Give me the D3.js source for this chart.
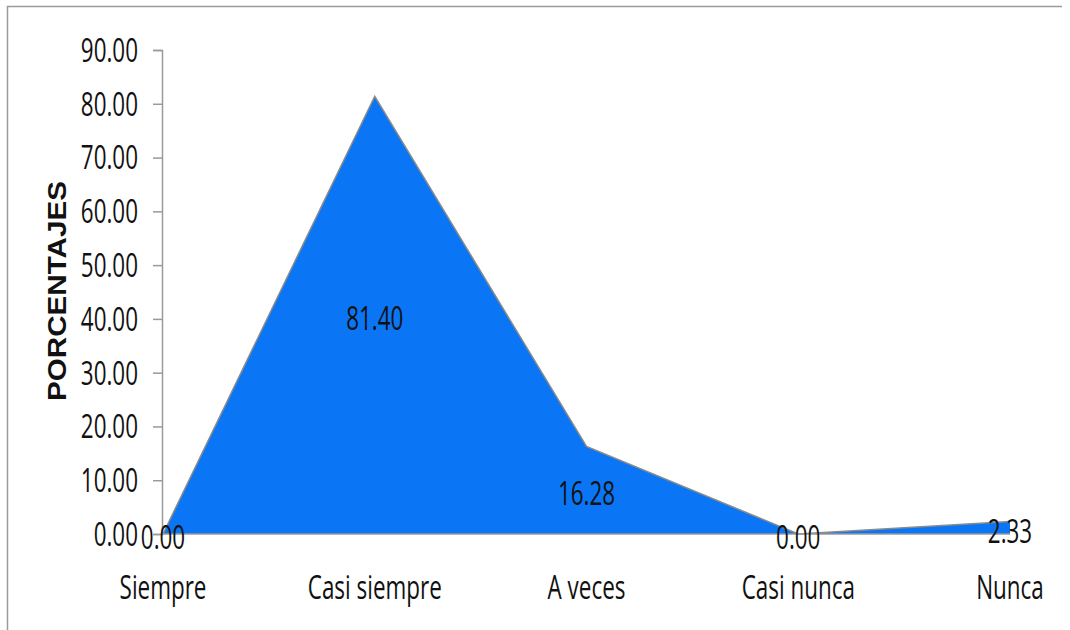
<!DOCTYPE html>
<html>
<head>
<style>
body {margin:0; background:#fff;}
text {font-family: "Open Sans", sans-serif; fill:#111;}
</style>
<script src="https://d3js.org/d3.v7.min.js"></script>
</head>
<body>
<svg id="vis" width="1070" height="630"></svg>
<script>
var categorias = ["Siempre", "Casi siempre", "A veces", "Casi nunca", "Nunca"];
var porcentajes = [0.00, 81.40, 16.28, 0.00, 2.33];
var ticksY = [0, 10, 20, 30, 40, 50, 60, 70, 80, 90];

var svg = d3.select("#vis");
var sx = 0.68; // condensed text look

// frame
svg.append("path").attr("d", "M7.5,630 V6.5 H1062")
  .attr("fill", "none").attr("stroke", "#9a9a9a").attr("stroke-width", 1.5);

var x = d3.scalePoint().domain(categorias).range([163, 1010]);
var y = d3.scaleLinear().domain([0, 90]).range([534, 50]);

var datos = categorias.map(function(c, i) { return {c: c, v: porcentajes[i]}; });

// area
var area = d3.area().x(function(d){ return x(d.c); }).y0(y(0)).y1(function(d){ return y(d.v); });
svg.append("path").datum(datos).attr("d", area).attr("fill", "#0a76f5");

var linea = d3.line().x(function(d){ return x(d.c); }).y(function(d){ return y(d.v); });
svg.append("path").datum(datos).attr("d", linea)
  .attr("fill", "none").attr("stroke", "#8a8a8a").attr("stroke-width", 1.5);

// y axis
var ejeY = svg.append("g").attr("transform", "translate(162,0)")
  .call(d3.axisLeft(y).tickValues(ticksY).tickSize(9).tickPadding(0).tickFormat(function(){ return ""; }));
ejeY.selectAll("path, line").attr("stroke", "#9a9a9a").attr("stroke-width", 1.5);

svg.append("g").selectAll("text").data(ticksY).enter().append("text")
  .attr("transform", function(d){ return "translate(138," + y(d) + ") scale(" + sx + ",1)"; })
  .attr("text-anchor", "end").attr("dy", "0.36em")
  .style("font-size", "33px")
  .text(function(d){ return d3.format(".2f")(d); });

// x axis line
svg.append("line").attr("x1", 162).attr("x2", 1010).attr("y1", y(0)).attr("y2", y(0))
  .attr("stroke", "#9a9a9a").attr("stroke-width", 1.5);

svg.append("g").selectAll("text").data(categorias).enter().append("text")
  .attr("transform", function(d){ return "translate(" + x(d) + ",587) scale(" + sx + ",1)"; })
  .attr("text-anchor", "middle").attr("dy", "0.36em")
  .style("font-size", "33px")
  .text(function(d){ return d; });

// data labels
svg.append("g").selectAll("text").data(datos).enter().append("text")
  .attr("transform", function(d){ return "translate(" + x(d.c) + "," + (y(d.v / 2) + 3) + ") scale(" + sx + ",1)"; })
  .attr("text-anchor", "middle").attr("dy", "0.36em")
  .style("font-size", "33px")
  .text(function(d){ return d3.format(".2f")(d.v); });

// y title
svg.append("text")
  .attr("transform", "translate(66,291) rotate(-90)")
  .attr("text-anchor", "middle")
  .attr("textLength", 220).attr("lengthAdjust", "spacingAndGlyphs")
  .style("font-family", "'Liberation Sans', Arial, sans-serif")
  .style("font-weight", "bold").style("font-size", "25px")
  .text("PORCENTAJES");
</script>
</body>
</html>
